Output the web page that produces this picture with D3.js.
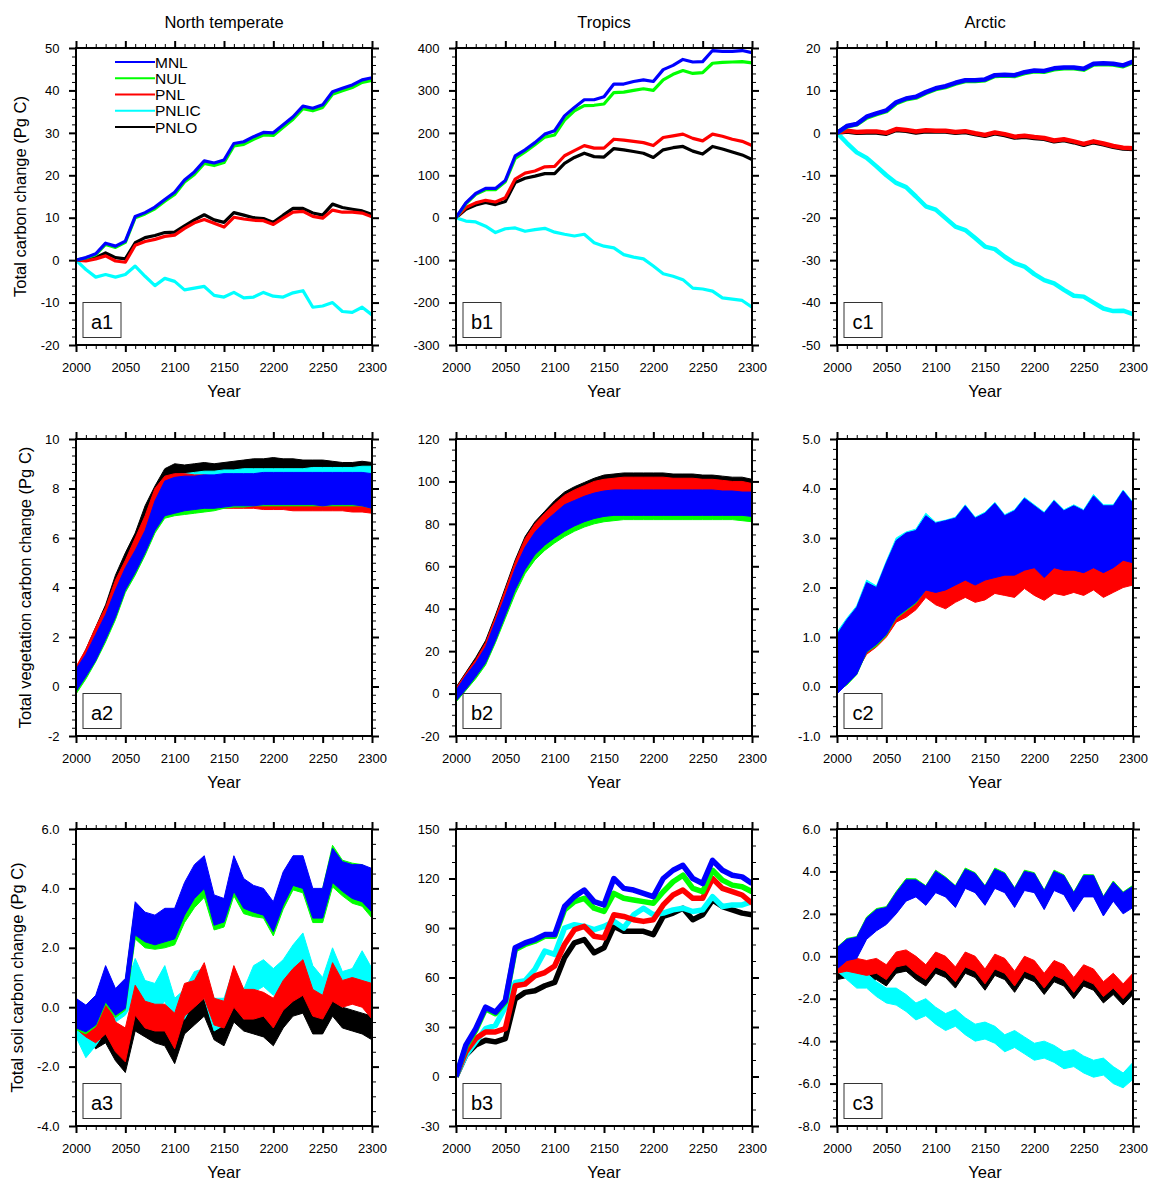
<!DOCTYPE html>
<html>
<head>
<meta charset="utf-8">
<script src="https://cdn.jsdelivr.net/npm/d3@7"></script>
<style>
  body { margin: 0; background: #fff; }
  text { font-family: "Liberation Sans", Arial, Helvetica, sans-serif; fill: #000; }
</style>
</head>
<body>
<div id="chart"></div>
<script>
// years sampled every 10 years, 2000-2300
var years = [2000,2010,2020,2030,2040,2050,2060,2070,2080,2090,2100,2110,2120,2130,2140,2150,
             2160,2170,2180,2190,2200,2210,2220,2230,2240,2250,2260,2270,2280,2290,2300];
var xTicks = [2000, 2050, 2100, 2150, 2200, 2250, 2300];

var runs = ["MNL", "NUL", "PNL", "PNLIC", "PNLO"];
var runColors = ["#0000ff", "#00ff00", "#ff0000", "#00ffff", "#000000"];
var columnTitles = ["North temperate", "Tropics", "Arctic"];
var rowLabels = ["Total carbon change (Pg C)", "Total vegetation carbon change (Pg C)", "Total soil carbon change (Pg C)"];

// y tick labels per panel
var a1Ticks = [-20, -10, 0, 10, 20, 30, 40, 50];
var b1Ticks = [-300, -200, -100, 0, 100, 200, 300, 400];
var c1Ticks = [-50, -40, -30, -20, -10, 0, 10, 20];
var a2Ticks = [-2, 0, 2, 4, 6, 8, 10];
var b2Ticks = [-20, 0, 20, 40, 60, 80, 100, 120];
var c2Ticks = [-1, 0, 1, 2, 3, 4, 5];
var a3Ticks = [-4, -2, 0, 2, 4, 6];
var b3Ticks = [-30, 0, 30, 60, 90, 120, 150];
var c3Ticks = [-8, -6, -4, -2, 0, 2, 4, 6];

// ---- row 1: total carbon change (lines)
var a1MNL = [0,0.6,1.5,4.0,3.3,4.5,10.3,11.2,12.5,14.3,16.0,18.9,20.8,23.4,22.9,23.6,27.5,27.9,29.1,30.1,30.0,31.9,33.8,36.3,35.8,36.6,39.7,40.5,41.3,42.5,43.0];
var a1NUL = [0,0.5,1.3,3.7,3.0,4.2,10.0,10.9,12.1,13.9,15.5,18.4,20.2,22.8,22.3,23.0,26.9,27.3,28.5,29.5,29.4,31.3,33.2,35.7,35.2,36.0,39.1,39.9,40.7,41.9,42.4];
var a1PNL = [0,-0.2,0.3,1.0,-0.2,-0.5,3.5,4.4,4.9,5.6,5.9,7.5,8.8,9.6,8.7,7.8,10.1,9.7,9.4,9.3,8.4,9.9,11.3,11.5,10.3,9.9,11.8,11.3,11.3,11.1,10.2];
var a1PNLIC = [0,-2.2,-4.0,-3.4,-4.0,-3.4,-1.4,-3.8,-6.0,-4.3,-5.0,-7.0,-6.6,-6.2,-8.3,-8.7,-7.6,-8.9,-8.7,-7.6,-8.5,-8.7,-7.7,-7.2,-11.1,-10.8,-10.0,-12.1,-12.3,-11.1,-12.9];
var a1PNLO = [0,0.2,0.6,1.7,0.6,0.3,4.1,5.3,5.8,6.5,6.6,8.1,9.5,10.7,9.5,8.9,11.2,10.6,10.0,9.8,8.9,10.6,12.2,12.2,11.1,10.6,13.2,12.4,12.0,11.6,10.8];

var b1MNL = [0,35,57,69,69,88,146,160,177,197,205,240,260,278,278,285,315,315,321,325,321,349,359,373,367,368,394,392,392,394,389];
var b1NUL = [0,33,55,66,66,85,140,155,172,190,195,230,252,264,265,268,295,296,300,304,300,325,338,347,340,342,364,366,367,368,365];
var b1PNL = [0,24,35,41,37,47,91,105,110,120,121,146,158,170,164,164,185,183,180,177,170,189,193,197,187,181,197,192,185,180,170];
var b1PNLIC = [0,-8,-10,-20,-35,-26,-24,-32,-28,-25,-34,-39,-43,-39,-59,-67,-71,-87,-93,-97,-114,-132,-138,-146,-166,-168,-173,-189,-192,-195,-211];
var b1PNLO = [0,20,30,36,31,38,83,93,98,104,104,128,142,152,144,143,163,160,156,152,142,160,165,168,157,150,168,162,155,148,137];

var c1MNL = [0,1.6,2.1,3.8,4.6,5.3,7.2,8.1,8.5,9.6,10.5,11.0,11.8,12.4,12.4,12.6,13.6,13.7,13.6,14.3,14.7,14.6,15.2,15.4,15.4,15.1,16.3,16.4,16.3,15.9,16.8];
var c1NUL = [0,1.5,2.0,3.6,4.4,5.1,7.0,7.9,8.3,9.4,10.3,10.8,11.6,12.2,12.2,12.4,13.4,13.5,13.4,14.1,14.5,14.4,15.0,15.2,15.2,14.9,16.1,16.2,16.1,15.7,16.6];
var c1PNL = [0,0.5,0.2,0.3,0.3,0.0,0.9,0.7,0.3,0.6,0.5,0.5,0.2,0.4,-0.1,-0.5,0.1,-0.3,-0.9,-0.7,-1.0,-1.2,-1.8,-1.5,-2.0,-2.6,-2.0,-2.5,-3.1,-3.5,-3.6];
var c1PNLIC = [0,-2.4,-4.6,-5.9,-7.9,-10.0,-11.8,-12.8,-15.0,-17.3,-18.1,-20.1,-22.1,-22.9,-24.8,-26.8,-27.4,-29.2,-30.7,-31.5,-33.3,-34.7,-35.5,-37.0,-38.4,-38.6,-40.0,-41.4,-42.0,-41.9,-42.7];
var c1PNLO = [0,0.3,0.0,0.1,0.1,-0.2,0.7,0.5,0.1,0.4,0.3,0.3,0.0,0.2,-0.3,-0.7,-0.1,-0.5,-1.1,-0.9,-1.2,-1.4,-2.0,-1.7,-2.2,-2.8,-2.2,-2.7,-3.3,-3.7,-3.8];

// ---- row 2: vegetation carbon change (low / high envelope)
var a2MNLlo = [-0.2,0.4,1.05,1.9,2.8,3.9,4.6,5.4,6.3,6.9,7.0,7.1,7.15,7.2,7.2,7.25,7.3,7.3,7.3,7.35,7.35,7.35,7.35,7.35,7.35,7.3,7.35,7.35,7.35,7.3,7.2];
var a2MNLhi = [0.7,1.3,2.1,2.9,3.9,4.8,5.5,6.3,7.5,8.3,8.45,8.5,8.5,8.55,8.55,8.6,8.6,8.6,8.6,8.65,8.65,8.65,8.65,8.65,8.65,8.65,8.65,8.65,8.65,8.65,8.6];
var a2NULlo = [-0.3,0.3,1.0,1.8,2.7,3.8,4.5,5.3,6.2,6.8,6.9,6.95,7.0,7.05,7.1,7.2,7.25,7.25,7.3,7.3,7.3,7.3,7.3,7.3,7.3,7.3,7.3,7.3,7.3,7.3,7.2];
var a2NULhi = [0.6,1.2,2.0,2.8,3.8,4.7,5.4,6.2,7.4,8.1,8.3,8.35,8.4,8.4,8.45,8.45,8.5,8.5,8.5,8.5,8.5,8.5,8.5,8.5,8.5,8.5,8.5,8.5,8.5,8.5,8.5];
var a2PNLlo = [-0.3,0.5,1.2,2.0,3.0,4.0,4.8,5.6,6.5,7.0,7.1,7.15,7.2,7.2,7.2,7.2,7.2,7.2,7.2,7.15,7.15,7.15,7.1,7.1,7.1,7.1,7.1,7.1,7.05,7.05,7.0];
var a2PNLhi = [0.8,1.5,2.4,3.2,4.3,5.1,6.0,6.9,8.0,8.5,8.6,8.6,8.55,8.55,8.5,8.5,8.5,8.5,8.5,8.5,8.5,8.5,8.5,8.5,8.5,8.5,8.5,8.5,8.5,8.5,8.5];
var a2PNLIClo = [-0.1,0.5,1.2,2.0,3.0,4.0,4.7,5.6,6.5,7.1,7.2,7.3,7.35,7.4,7.4,7.45,7.45,7.5,7.5,7.5,7.5,7.5,7.5,7.5,7.5,7.5,7.5,7.5,7.5,7.5,7.5];
var a2PNLIChi = [0.7,1.4,2.2,3.0,4.0,4.9,5.7,6.6,7.8,8.4,8.55,8.6,8.65,8.7,8.7,8.75,8.75,8.8,8.8,8.8,8.8,8.8,8.8,8.8,8.85,8.85,8.85,8.85,8.85,8.9,8.9];
var a2PNLOlo = [-0.2,0.6,1.4,2.2,3.3,4.3,5.1,6.0,7.0,7.5,7.6,7.6,7.65,7.7,7.7,7.7,7.75,7.75,7.8,7.8,7.8,7.8,7.8,7.8,7.8,7.8,7.8,7.8,7.8,7.8,7.8];
var a2PNLOhi = [0.7,1.5,2.4,3.3,4.5,5.4,6.2,7.3,8.1,8.8,9.0,8.95,9.0,9.05,9.0,9.05,9.1,9.15,9.2,9.2,9.25,9.2,9.2,9.15,9.15,9.15,9.1,9.05,9.05,9.1,9.05];

var b2MNLlo = [-3.5,2,8,14.5,25,37,49,58.5,65.5,70,73.5,76.5,79,81,82.5,83.5,84,84,84,84,84,84,84,84,84,84,84,84,84,84,83.5];
var b2MNLhi = [1.5,8.5,14.5,22,34,46,59,69,76,81,85,89,91,93,94.5,95.5,96,96,96,96,96,96,96,96,96,96,96,95.5,95.5,95,95];
var b2NULlo = [-4,1.5,7,13.5,24,35.5,47,56.5,63,67.5,71,74,76.5,78.5,80,81,81.5,82,82,82,82,82,82,82,82,82,82,82,82,81.5,81];
var b2NULhi = [1,8,14,21,33,45,57,67,74,79,83,87,89,91,92.5,93.5,94,94,94,94,94,94,94,94,94,94,94,93.5,93.5,93,93];
var b2PNLlo = [-2.5,3,9,16,27,39,51,61,68,72,76,79.5,82,84,86,87,88,88.5,88.5,88.5,88.5,88.5,88.5,88.5,88.5,88.5,88.5,88,88,88,87.5];
var b2PNLhi = [2.5,9.5,16,24,36,49,62,73,80,85,89.5,93.5,96,98,100,101,101.5,102,102,102,102,102,101.5,101.5,101.5,101,101,100.5,100,100,99];
var b2PNLIClo = [-3,2.5,8.5,15,25.5,37.5,49.5,59,66,70.5,74,77,79.5,81.5,83,84,85,85,85,85,85,85,85,85,85,85,85,85,85,85,84.5];
var b2PNLIChi = [2,9,15,23,35,47,60,70,77,82,86,90,92,94,95.5,96.5,97,97,97,97,97,97,97,97,97,97,97,96.5,96.5,96,96];
var b2PNLOlo = [-2,4,10,17,28,40,52,62,69,74,79,83,86,88,90,91,92,92,92,92,92,92,92,92,92,92,92,92,91.5,91.5,91];
var b2PNLOhi = [3,10,17,25,37,50,63,74,81,86,91,95,97.5,99.5,101.5,103,103.5,104,104,104,104,104,103.5,103.5,103.5,103,103,102.5,102,102,101];

var c2MNLlo = [-0.15,0.05,0.25,0.7,0.85,1.05,1.4,1.55,1.7,1.95,1.9,1.95,2.05,2.15,2.05,2.15,2.2,2.25,2.25,2.35,2.4,2.2,2.4,2.35,2.35,2.3,2.4,2.3,2.4,2.55,2.5];
var c2MNLhi = [1.05,1.35,1.6,2.1,2.0,2.5,2.95,3.1,3.15,3.45,3.3,3.35,3.4,3.65,3.4,3.5,3.7,3.45,3.55,3.8,3.65,3.5,3.75,3.55,3.65,3.55,3.85,3.65,3.65,3.95,3.7];
var c2NULlo = [-0.1,0.03,0.24,0.69,0.82,1.03,1.38,1.53,1.68,1.96,1.92,1.97,2.07,2.17,2.07,2.17,2.22,2.27,2.27,2.37,2.42,2.22,2.42,2.37,2.37,2.32,2.42,2.32,2.42,2.57,2.52];
var c2NULhi = [1.0,1.3,1.55,2.05,1.95,2.45,2.9,3.05,3.1,3.4,3.25,3.3,3.35,3.6,3.35,3.45,3.65,3.4,3.5,3.75,3.6,3.45,3.7,3.5,3.6,3.5,3.8,3.6,3.6,3.9,3.65];
var c2PNLlo = [-0.1,0.1,0.3,0.65,0.8,1.0,1.3,1.4,1.55,1.8,1.65,1.57,1.7,1.8,1.7,1.75,1.88,1.84,1.8,1.98,1.84,1.74,1.88,1.84,1.9,1.84,1.95,1.8,1.9,2.0,2.05];
var c2PNLhi = [0.6,0.8,1.0,1.3,1.45,1.65,2.0,2.15,2.25,2.5,2.45,2.5,2.6,2.7,2.6,2.7,2.75,2.8,2.8,2.9,2.95,2.75,2.95,2.9,2.9,2.85,2.95,2.85,2.95,3.1,3.05];
var c2PNLIClo = [0.0,0.15,0.4,0.85,1.0,1.2,1.55,1.7,1.85,2.1,2.05,2.1,2.2,2.3,2.2,2.3,2.35,2.4,2.4,2.5,2.55,2.35,2.55,2.5,2.5,2.45,2.55,2.45,2.55,2.7,2.65];
var c2PNLIChi = [1.1,1.38,1.63,2.15,2.03,2.53,3.0,3.12,3.18,3.5,3.32,3.36,3.42,3.67,3.42,3.52,3.72,3.47,3.57,3.82,3.67,3.52,3.77,3.57,3.67,3.57,3.88,3.67,3.67,3.97,3.72];
var c2PNLOlo = [-0.05,0.15,0.35,0.7,0.85,1.05,1.35,1.45,1.6,1.85,1.7,1.62,1.75,1.85,1.75,1.8,1.93,1.89,1.85,2.03,1.89,1.79,1.93,1.89,1.95,1.89,2.0,1.85,1.95,2.05,2.1];
var c2PNLOhi = [0.55,0.75,0.95,1.25,1.4,1.6,1.95,2.1,2.2,2.45,2.4,2.45,2.55,2.65,2.55,2.65,2.7,2.75,2.75,2.85,2.9,2.7,2.9,2.85,2.85,2.8,2.9,2.8,2.9,3.05,3.0];

// ---- row 3: soil carbon change
var a3MNLlo = [-0.7,-0.83,-0.6,0.18,-0.27,-0.04,2.43,2.2,2.1,2.2,2.3,3.1,3.66,4.0,2.76,2.87,3.9,3.33,3.2,3.1,2.54,3.44,4.1,4.0,3.0,3.0,4.2,3.9,3.66,3.55,3.2];
var a3MNLhi = [0.3,0.07,0.4,1.4,0.63,0.97,3.55,3.2,3.1,3.33,3.33,4.2,4.8,5.1,3.78,3.66,5.1,4.33,4.1,4.0,3.55,4.56,5.1,5.1,4.0,4.0,5.35,4.9,4.8,4.8,4.67];
var a3NULlo = [-0.75,-0.9,-0.65,0.1,-0.35,-0.1,2.3,2.0,1.95,2.0,2.1,2.85,3.35,3.7,2.6,2.7,3.75,3.15,3.05,3.0,2.4,3.3,3.95,3.85,2.85,2.85,4.05,3.75,3.5,3.4,3.0];
var a3NULhi = [0.25,0.05,0.35,1.3,0.6,0.9,3.45,3.1,3.0,3.2,3.2,4.0,4.4,4.7,3.6,3.5,4.9,4.2,4.0,3.9,3.45,4.5,5.0,5.0,3.9,4.0,5.45,4.95,4.85,4.8,4.6];
var a3PNLlo = [-0.72,-1.0,-1.2,-0.9,-1.5,-1.84,-0.27,-0.7,-0.8,-0.8,-1.4,-0.3,0.0,0.3,-0.6,-0.7,0.0,-0.4,-0.4,-0.3,-0.7,-0.1,0.2,0.4,-0.3,-0.4,0.2,0.0,0.1,0.0,-0.4];
var a3PNLhi = [-0.05,-0.4,-0.4,0.4,-0.5,-0.7,0.74,0.2,0.1,0.1,-0.2,0.8,0.9,1.5,0.3,0.2,1.4,0.6,0.6,0.5,0.3,0.9,1.3,1.6,0.6,0.4,1.5,0.9,1.0,0.9,0.8];
var a3PNLIClo = [-1.0,-1.7,-1.3,-0.8,-0.5,-0.27,0.3,-0.2,-0.2,0.2,-0.6,-0.4,0.2,0.3,-0.8,-0.6,0.3,-0.4,0.5,0.7,0.4,0.7,1.0,1.3,0.5,0.0,0.9,0.0,0.3,0.8,0.3];
var a3PNLIChi = [-0.2,-0.5,-0.3,0.4,0.18,0.63,1.64,0.9,0.8,1.4,0.3,0.6,1.2,1.3,0.3,0.3,1.3,0.6,1.4,1.6,1.3,1.6,2.1,2.5,1.4,1.0,2.0,1.2,1.3,1.9,1.3];
var a3PNLOlo = [-0.9,-1.1,-1.4,-1.2,-1.8,-2.2,-0.8,-1.0,-1.2,-1.3,-1.9,-0.9,-0.6,-0.3,-1.1,-1.3,-0.5,-0.8,-0.9,-1.0,-1.3,-0.7,-0.3,-0.2,-0.9,-0.9,-0.3,-0.7,-0.8,-0.9,-1.1];
var a3PNLOhi = [-0.3,-0.6,-0.8,-0.3,-0.9,-1.3,0.1,-0.1,-0.4,-0.5,-0.9,0.0,0.2,0.4,-0.4,-0.6,0.2,-0.1,-0.2,-0.3,-0.6,0.0,0.4,0.6,-0.2,-0.2,0.4,0.0,-0.1,-0.2,-0.3];

var b3MNL = [0,19,29,42,39,46,78,81,83,86,86,103,109,113,106,104,120,114,113,111,109,120,125,128,120,117,131,125,122,121,117];
var b3NUL = [0,18,28,41,38,45,77,80,82,85,85,101,106,108,102,100,111,108,107,106,105,112,118,122,114,112,125,119,116,115,112];
var b3PNL = [0,15,23,27,27,29,55,56,61,63,67,80,89,91,85,84,98,97,95,94,95,104,110,113,108,108,120,114,112,110,105];
var b3PNLIC = [0,13,21,29,31,42,57,58,65,76,74,90,92,91,89,91,94,90,98,102,98,99,101,102,100,101,109,103,104,104,106];
var b3PNLO = [0,13,19,22,21,23,47,51,52,55,57,72,81,83,75,78,91,88,88,88,86,97,99,102,95,98,107,103,101,99,98];

var c3MNLlo = [-0.6,-0.2,-0.1,0.8,1.2,1.5,2.0,2.6,2.8,2.4,3.0,2.8,2.3,3.2,3.0,2.4,3.2,3.0,2.3,3.1,3.0,2.2,3.1,2.9,2.1,2.8,2.8,1.9,2.6,2.0,2.3];
var c3MNLhi = [0.4,0.8,0.9,1.8,2.2,2.3,3.0,3.6,3.6,3.3,4.0,3.7,3.3,4.1,3.9,3.3,4.1,3.9,3.2,4.0,3.9,3.1,4.0,3.8,3.0,3.8,3.8,2.8,3.5,3.0,3.3];
var c3NULlo = [-0.55,-0.15,-0.05,0.85,1.25,1.55,2.05,2.65,2.85,2.45,3.05,2.85,2.35,3.25,3.05,2.45,3.25,3.05,2.35,3.15,3.05,2.25,3.15,2.95,2.15,2.85,2.85,1.95,2.65,2.05,2.35];
var c3NULhi = [0.42,0.84,0.93,1.85,2.25,2.34,3.05,3.66,3.65,3.33,4.06,3.74,3.33,4.16,3.94,3.33,4.16,3.94,3.23,4.06,3.94,3.13,4.06,3.84,3.03,3.85,3.84,2.83,3.55,3.03,3.35];
var c3PNLlo = [-0.8,-0.7,-0.8,-0.9,-0.8,-1.1,-0.5,-0.4,-0.8,-1.1,-0.5,-0.7,-1.2,-0.5,-0.7,-1.3,-0.6,-0.8,-1.4,-0.7,-0.9,-1.5,-0.9,-1.1,-1.7,-1.1,-1.3,-1.9,-1.5,-2.0,-1.5];
var c3PNLhi = [-0.2,0.0,-0.1,-0.2,-0.1,-0.4,0.2,0.3,0.0,-0.4,0.2,0.0,-0.5,0.2,0.0,-0.6,0.1,-0.1,-0.7,0.0,-0.2,-0.8,-0.2,-0.4,-1.0,-0.4,-0.6,-1.2,-0.8,-1.3,-0.8];
var c3PNLIClo = [-0.7,-1.1,-1.5,-1.5,-1.9,-2.2,-2.3,-2.6,-3.0,-2.8,-3.2,-3.5,-3.3,-3.7,-4.0,-3.9,-4.1,-4.5,-4.3,-4.6,-4.9,-4.8,-5.0,-5.3,-5.2,-5.5,-5.7,-5.6,-6.0,-6.2,-5.8];
var c3PNLIChi = [-0.2,-0.5,-0.8,-0.8,-1.2,-1.5,-1.5,-1.8,-2.2,-2.0,-2.4,-2.7,-2.5,-2.9,-3.2,-3.1,-3.3,-3.7,-3.5,-3.8,-4.1,-4.0,-4.2,-4.5,-4.4,-4.7,-4.9,-4.8,-5.2,-5.5,-5.0];
var c3PNLOlo = [-1.1,-1.0,-1.1,-1.2,-1.1,-1.4,-0.8,-0.7,-1.1,-1.4,-0.8,-1.0,-1.5,-0.8,-1.0,-1.6,-0.9,-1.1,-1.7,-1.0,-1.2,-1.8,-1.2,-1.4,-2.0,-1.4,-1.6,-2.2,-1.8,-2.3,-1.8];
var c3PNLOhi = [-0.35,-0.15,-0.25,-0.35,-0.25,-0.55,0.05,0.15,-0.15,-0.55,0.05,-0.15,-0.65,0.05,-0.15,-0.75,-0.05,-0.25,-0.85,-0.15,-0.35,-0.95,-0.35,-0.55,-1.15,-0.55,-0.75,-1.35,-0.95,-1.45,-0.95];

// panel layout
var svgWidth = 1150, svgHeight = 1180;
var colX = [76, 456, 837];
var rowY = [48, 439, 829];
var plotW = 296, plotH = 297;
var yLabelX = [20, 25, 17];

var panels = [
  {name: "a1", col: 0, row: 0, ticks: a1Ticks, minor: 5, dec: 0, kind: "line", lw: 3.2,
   series: [a1MNL, a1NUL, a1PNL, a1PNLIC, a1PNLO]},
  {name: "b1", col: 1, row: 0, ticks: b1Ticks, minor: 5, dec: 0, kind: "line", lw: 3.2,
   series: [b1MNL, b1NUL, b1PNL, b1PNLIC, b1PNLO]},
  {name: "c1", col: 2, row: 0, ticks: c1Ticks, minor: 5, dec: 0, kind: "line", lw: 4.5,
   series: [c1MNL, c1NUL, c1PNL, c1PNLIC, c1PNLO]},
  {name: "a2", col: 0, row: 1, ticks: a2Ticks, minor: 6, dec: 0, kind: "band",
   series: [[a2MNLlo, a2MNLhi], [a2NULlo, a2NULhi], [a2PNLlo, a2PNLhi], [a2PNLIClo, a2PNLIChi], [a2PNLOlo, a2PNLOhi]]},
  {name: "b2", col: 1, row: 1, ticks: b2Ticks, minor: 4, dec: 0, kind: "band",
   series: [[b2MNLlo, b2MNLhi], [b2NULlo, b2NULhi], [b2PNLlo, b2PNLhi], [b2PNLIClo, b2PNLIChi], [b2PNLOlo, b2PNLOhi]]},
  {name: "c2", col: 2, row: 1, ticks: c2Ticks, minor: 5, dec: 1, kind: "band",
   series: [[c2MNLlo, c2MNLhi], [c2NULlo, c2NULhi], [c2PNLlo, c2PNLhi], [c2PNLIClo, c2PNLIChi], [c2PNLOlo, c2PNLOhi]]},
  {name: "a3", col: 0, row: 2, ticks: a3Ticks, minor: 4, dec: 1, kind: "band",
   series: [[a3MNLlo, a3MNLhi], [a3NULlo, a3NULhi], [a3PNLlo, a3PNLhi], [a3PNLIClo, a3PNLIChi], [a3PNLOlo, a3PNLOhi]]},
  {name: "b3", col: 1, row: 2, ticks: b3Ticks, minor: 3, dec: 0, kind: "line", lw: 5.5,
   series: [b3MNL, b3NUL, b3PNL, b3PNLIC, b3PNLO]},
  {name: "c3", col: 2, row: 2, ticks: c3Ticks, minor: 5, dec: 1, kind: "band",
   series: [[c3MNLlo, c3MNLhi], [c3NULlo, c3NULhi], [c3PNLlo, c3PNLhi], [c3PNLIClo, c3PNLIChi], [c3PNLOlo, c3PNLOhi]]}
];

var svg = d3.select("#chart")
  .append("svg")
  .attr("width", svgWidth)
  .attr("height", svgHeight);

var xScale = d3.scaleLinear().domain([2000, 2300]).range([0, plotW]);
var xMinor = years.filter(d => xTicks.indexOf(d) < 0);

function styleAxis(g, major) {
  g.select(".domain").remove();
  g.selectAll(".tick line")
    .attr("stroke", "#000")
    .attr("stroke-width", major ? 2 : 1);
  g.selectAll("text")
    .attr("font-size", "13px")
    .attr("font-family", "'Liberation Sans', Arial, Helvetica, sans-serif")
    .attr("fill", "#000");
  g.attr("font-family", null).attr("font-size", null);
}

panels.forEach(function(p) {
  var x0 = colX[p.col], y0 = rowY[p.row];
  var g = svg.append("g").attr("transform", `translate(${x0}, ${y0})`);

  var yScale = d3.scaleLinear()
    .domain([p.ticks[0], p.ticks[p.ticks.length - 1]])
    .range([plotH, 0]);

  var step = (p.ticks[1] - p.ticks[0]) / p.minor;
  var yMinor = [];
  for (var v = p.ticks[0]; v <= p.ticks[p.ticks.length - 1] + step / 2; v += step) {
    var r = Math.round(v * 1000) / 1000;
    if (!p.ticks.some(t => Math.abs(t - r) < 1e-6)) yMinor.push(r);
  }
  var fmt = d => p.dec ? d.toFixed(p.dec) : String(d);

  // clip
  var clipId = "clip-" + p.name;
  g.append("clipPath").attr("id", clipId)
    .append("rect").attr("width", plotW).attr("height", plotH);
  var dataG = g.append("g").attr("clip-path", `url(#${clipId})`);

  // draw last run first so MNL sits on top
  var order = [4, 3, 2, 1, 0];
  if (p.kind === "line") {
    var line = d3.line()
      .x((d, i) => xScale(years[i]))
      .y(d => yScale(d));
    order.forEach(function(k) {
      dataG.append("path")
        .datum(p.series[k])
        .attr("d", line)
        .attr("fill", "none")
        .attr("stroke", runColors[k])
        .attr("stroke-width", p.lw)
        .attr("stroke-linejoin", "round");
    });
  } else {
    order.forEach(function(k) {
      var lo = p.series[k][0], hi = p.series[k][1];
      var area = d3.area()
        .x(i => xScale(years[i]))
        .y0(i => yScale(lo[i]))
        .y1(i => yScale(hi[i]));
      dataG.append("path")
        .datum(years.map((d, i) => i))
        .attr("d", area)
        .attr("fill", runColors[k])
        .attr("stroke", runColors[k])
        .attr("stroke-width", 1);
    });
  }

  // axes: all ticks point outward
  g.append("g").attr("transform", `translate(0, ${plotH})`)
    .call(d3.axisBottom(xScale).tickValues(xTicks).tickSize(7).tickPadding(10.5).tickFormat(d => String(d)))
    .call(s => styleAxis(s, true));
  g.append("g").attr("transform", `translate(0, ${plotH})`)
    .call(d3.axisBottom(xScale).tickValues(xMinor).tickSize(4).tickFormat(""))
    .call(s => styleAxis(s, false));
  g.append("g")
    .call(d3.axisTop(xScale).tickValues(xTicks).tickSize(7).tickFormat(""))
    .call(s => styleAxis(s, true));
  g.append("g")
    .call(d3.axisTop(xScale).tickValues(xMinor).tickSize(4).tickFormat(""))
    .call(s => styleAxis(s, false));

  g.append("g")
    .call(d3.axisLeft(yScale).tickValues(p.ticks).tickSize(7).tickPadding(9.5).tickFormat(fmt))
    .call(s => styleAxis(s, true));
  g.append("g")
    .call(d3.axisLeft(yScale).tickValues(yMinor).tickSize(4).tickFormat(""))
    .call(s => styleAxis(s, false));
  g.append("g").attr("transform", `translate(${plotW}, 0)`)
    .call(d3.axisRight(yScale).tickValues(p.ticks).tickSize(7).tickFormat(""))
    .call(s => styleAxis(s, true));
  g.append("g").attr("transform", `translate(${plotW}, 0)`)
    .call(d3.axisRight(yScale).tickValues(yMinor).tickSize(4).tickFormat(""))
    .call(s => styleAxis(s, false));

  // frame
  g.append("rect")
    .attr("width", plotW).attr("height", plotH)
    .attr("fill", "none").attr("stroke", "#000").attr("stroke-width", 2);

  // panel label box
  g.append("rect")
    .attr("x", 7).attr("y", plotH - 42.5)
    .attr("width", 38).attr("height", 35)
    .attr("fill", "#fff").attr("stroke", "#333").attr("stroke-width", 1);
  g.append("text")
    .attr("x", 26).attr("y", plotH - 16.5)
    .attr("text-anchor", "middle")
    .attr("font-size", "20px")
    .text(p.name);

  // x axis title
  g.append("text")
    .attr("x", plotW / 2).attr("y", plotH + 52)
    .attr("text-anchor", "middle")
    .attr("font-size", "16.5px")
    .text("Year");

  if (p.row === 0) {
    g.append("text")
      .attr("x", plotW / 2).attr("y", -20.5)
      .attr("text-anchor", "middle")
      .attr("font-size", "16.5px")
      .text(columnTitles[p.col]);
  }

  if (p.col === 0) {
    svg.append("text")
      .attr("transform", `translate(${yLabelX[p.row]}, ${y0 + plotH / 2}) rotate(-90)`)
      .attr("dy", "0.35em")
      .attr("text-anchor", "middle")
      .attr("font-size", "16.5px")
      .text(rowLabels[p.row]);
  }

  // legend only in the first panel
  if (p.name === "a1") {
    var leg = g.append("g");
    runs.forEach(function(name, i) {
      var ly = 14 + i * 16.25;
      leg.append("line")
        .attr("x1", 39).attr("x2", 79)
        .attr("y1", ly).attr("y2", ly)
        .attr("stroke", runColors[i]).attr("stroke-width", 2);
      leg.append("text")
        .attr("x", 79).attr("y", ly)
        .attr("dy", "0.36em")
        .attr("font-size", "15.5px")
        .text(name);
    });
  }
});
</script>
</body>
</html>
